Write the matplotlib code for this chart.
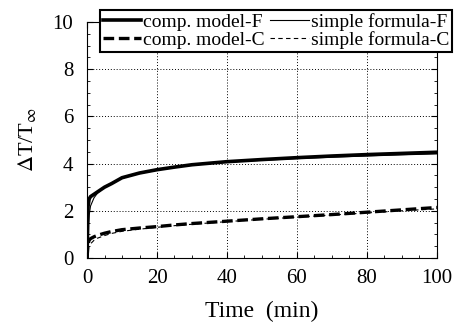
import matplotlib
matplotlib.use('Agg')
import matplotlib.pyplot as plt
import numpy as np
from matplotlib.ticker import MultipleLocator

plt.rcParams['font.family'] = ['Liberation Serif', 'DejaVu Serif']
plt.rcParams['mathtext.fontset'] = 'stix'

# data
t = [0, 0.3, 0.6, 1, 2, 3, 5, 7, 10, 15, 20, 25, 30, 40, 50, 60, 70, 80, 90, 100]
comp_F = [0, 2.2, 2.5, 2.6, 2.7, 2.8, 3.0, 3.15, 3.4, 3.6, 3.74, 3.85, 3.95, 4.08, 4.17, 4.25, 4.32, 4.38, 4.43, 4.48]
simp_F = [0, 1.2, 1.8, 2.2, 2.55, 2.75, 3.0, 3.17, 3.38, 3.58, 3.72, 3.84, 3.93, 4.06, 4.14, 4.21, 4.27, 4.32, 4.37, 4.41]
comp_C = [0, 0.6, 0.75, 0.82, 0.9, 0.96, 1.05, 1.12, 1.2, 1.27, 1.33, 1.4, 1.46, 1.56, 1.66, 1.75, 1.84, 1.94, 2.04, 2.14]
simp_C = [0, 0.35, 0.5, 0.6, 0.75, 0.84, 0.95, 1.04, 1.13, 1.22, 1.3, 1.37, 1.43, 1.54, 1.64, 1.73, 1.82, 1.91, 2.0, 2.08]

fig = plt.figure(figsize=(4.58, 3.27), dpi=100)
ax = fig.add_axes([0.19, 0.211, 0.764, 0.722])

ax.plot(t, comp_F, color='black', lw=2.6, label='comp. model-F')
ax.plot(t, comp_C, color='black', lw=2.4, ls=(0, (3.2, 1.4)), label='comp. model-C')
ax.plot(t, simp_F, color='black', lw=0.8, label='simple formula-F')
ax.plot(t, simp_C, color='black', lw=0.8, ls=(0, (4, 3)), label='simple formula-C')

ax.set_xlim(0, 100)
ax.set_ylim(0, 10)
ax.xaxis.set_major_locator(MultipleLocator(20))
ax.xaxis.set_minor_locator(MultipleLocator(5))
ax.yaxis.set_major_locator(MultipleLocator(2))
ax.yaxis.set_minor_locator(MultipleLocator(0.5))
ax.tick_params(which='both', direction='in', top=True, right=True, labelsize=15)
ax.tick_params(axis='y', pad=10)
ax.tick_params(axis='x', pad=8)
ax.tick_params(which='major', length=4)
ax.tick_params(which='minor', length=2)
ax.grid(True, which='major', color='black', ls=(0, (1, 2)), lw=0.7)

ax.set_xlabel('Time  (min)', fontsize=17, labelpad=9)
ax.set_ylabel(r'$\Delta$T/T$_\infty$', fontsize=16, labelpad=10)

leg = ax.legend(ncol=2, loc='upper right', bbox_to_anchor=(0.987, 0.969),
                bbox_transform=fig.transFigure, fontsize=14,
                handlelength=2.0, handletextpad=0.1, columnspacing=0.25,
                labelspacing=0.0, borderpad=0.15, borderaxespad=0,
                fancybox=False, framealpha=1, edgecolor='black')
leg.get_frame().set_linewidth(1.5)

fig.savefig('out.png', dpi=100)
